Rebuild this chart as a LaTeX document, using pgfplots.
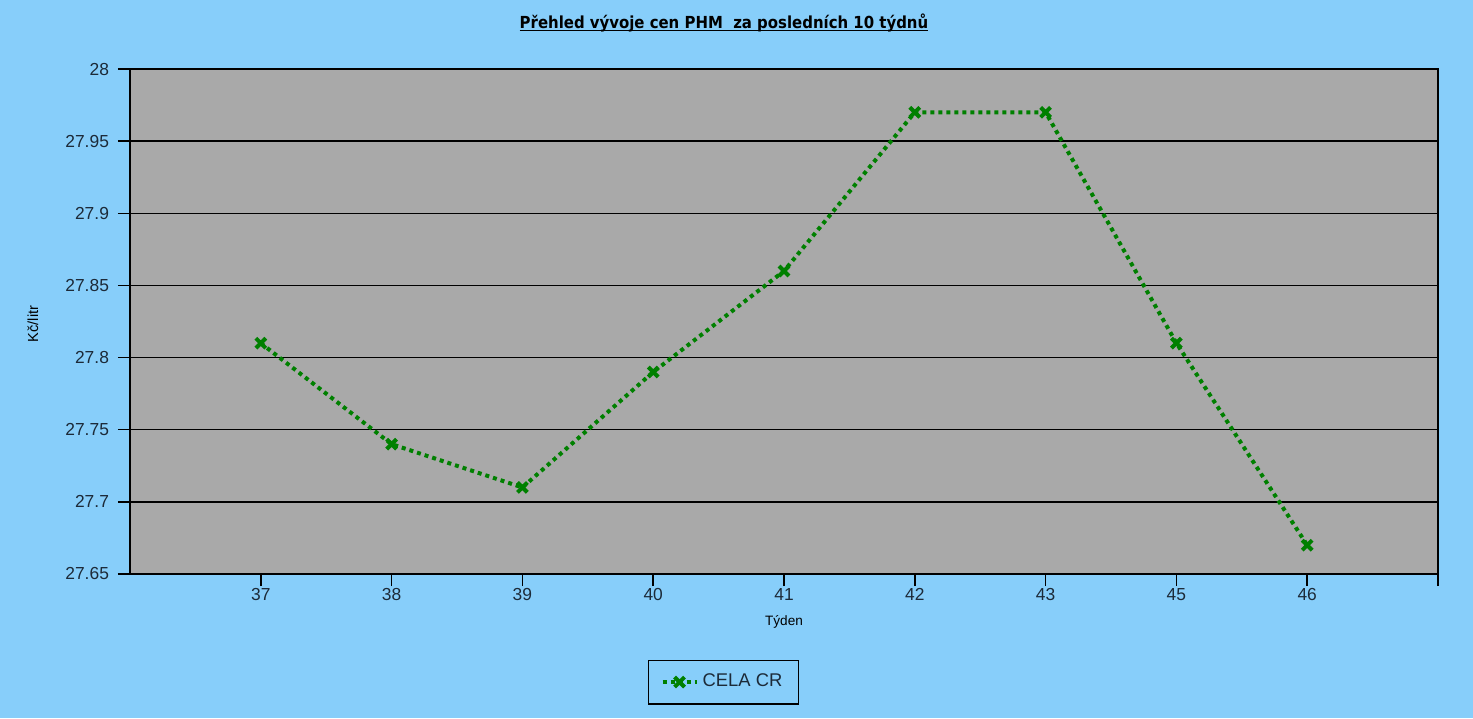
\documentclass[border=0pt]{standalone}
\usepackage{pgfplots}
\pgfplotsset{compat=1.18}
\usepackage{fontspec}
\setmainfont{Liberation Sans}
\newfontfamily\titlefont{DejaVu Sans Condensed}
\definecolor{bgblue}{HTML}{87CEFA}
\definecolor{plotgray}{HTML}{A9A9A9}
\definecolor{linegreen}{HTML}{008000}
\definecolor{txt}{HTML}{1C2A38}
\newcommand\ul[1]{\setbox0\hbox{#1}\rlap{\rule[-1.4pt]{\wd0}{0.6pt}}\box0}
\begin{document}
\begin{tikzpicture}
\fill[bgblue] (0,0) rectangle (736.5pt,-359pt);
\node[font=\titlefont\bfseries\fontsize{8.3}{10}\selectfont, text=black, inner sep=0pt] at (362pt,-11.5pt) {\ul{Přehled vývoje cen PHM\ \ za posledních 10 týdnů}};
\node[rotate=90, font=\fontsize{7.3}{8}\selectfont, text=black, inner sep=0pt] at (16.5pt,-162pt) {Kč/litr};
\node[font=\fontsize{6.8}{8}\selectfont, text=black, inner sep=0pt] at (392pt,-311pt) {Týden};
\begin{axis}[
  at={(65pt,-287pt)}, anchor=south west,
  scale only axis, width=654pt, height=252.5pt,
  xmin=-1, xmax=9, ymin=27.65, ymax=28,
  axis background/.style={fill=plotgray},
  xtick={0,1,2,3,4,5,6,7,8},
  xticklabels={37,38,39,40,41,42,43,45,46},
  extra x ticks={9}, extra x tick labels={},
  extra x tick style={grid=none},
  ytick={27.65,27.7,27.75,27.8,27.85,27.9,27.95,28},
  yticklabels={27.65,27.7,27.75,27.8,27.85,27.9,27.95,28},
  ymajorgrids, major grid style={black, line width=0.75pt},
  axis line style={black, line width=0.6pt},
  axis x line*=bottom, axis y line*=left,
  tick align=outside,
  major tick length=6pt,
  tick style={black, line width=0.75pt},
  tick label style={font=\fontsize{8.7}{11}\selectfont, text=txt},
  xticklabel style={yshift=2.5pt},
  yticklabel style={xshift=-1pt},
  legend style={at={(0.4537,-0.2139)}, anchor=center, fill=bgblue, draw=black, line width=0.6pt,
    font=\fontsize{9.2}{11}\selectfont, text=txt, inner xsep=6pt, inner ysep=5pt},
  clip=false,
]
\draw[black, line width=0.6pt] (rel axis cs:0,1) -- (rel axis cs:1,1) -- (rel axis cs:1,0);
\addplot[linegreen, line width=2pt, dash pattern=on 2pt off 2pt, mark=x, mark size=3.5pt,
  mark options={solid, line width=2pt}]
  coordinates {(0,27.81) (1,27.74) (2,27.71) (3,27.79) (4,27.86) (5,27.97) (6,27.97) (7,27.81) (8,27.67)};
\addlegendentry{CELA CR}
\end{axis}
\end{tikzpicture}
\end{document}
